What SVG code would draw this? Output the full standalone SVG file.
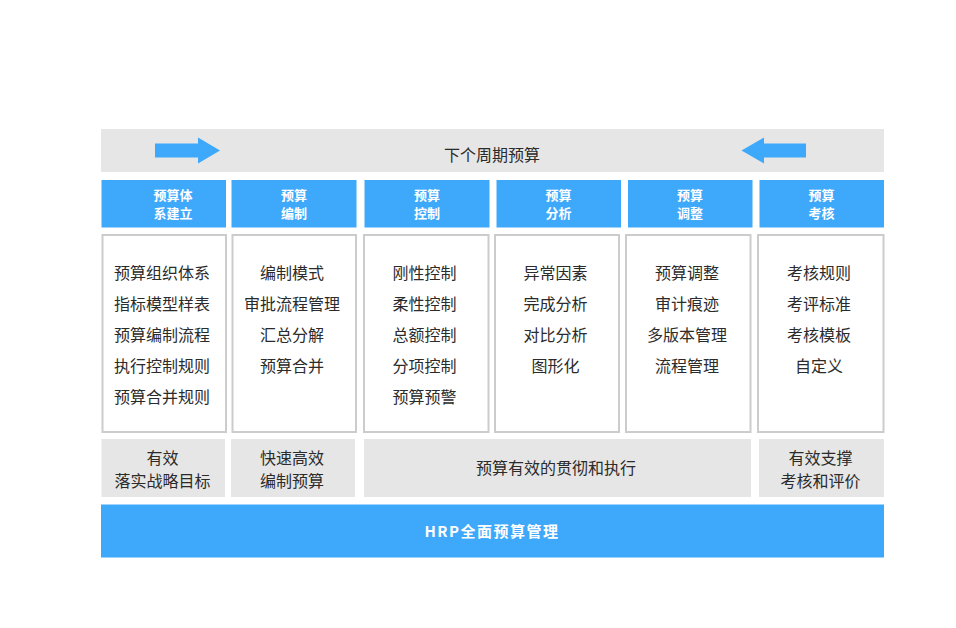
<svg xmlns="http://www.w3.org/2000/svg" width="956" height="628" viewBox="0 0 956 628">
<style>
.bg{fill:#ffffff}
.gray{fill:#e6e6e6}
.blue{fill:#3ea8fb}
.box{fill:#ffffff;stroke:#cccccc;stroke-width:2}
.t{font-family:"Noto Sans CJK SC","Noto Sans",sans-serif;font-size:16px;fill:#2b2b2b;text-anchor:middle;dominant-baseline:central}
.h{font-family:"Noto Sans CJK SC","Noto Sans",sans-serif;font-size:13px;fill:#ffffff;font-weight:bold;text-anchor:middle;dominant-baseline:central}
.hb{font-family:"Noto Sans CJK SC","Noto Sans",sans-serif;font-size:15px;fill:#ffffff;font-weight:bold;text-anchor:middle;dominant-baseline:central;letter-spacing:1.5px}
</style>
<rect class="bg" x="0" y="0" width="956" height="628"/>
<g id="cycle">
<rect class="gray" x="101" y="129" width="783" height="43"/>
<text class="t" x="492" y="154">下个周期预算</text>
</g>
<g id="connectors">
<polygon fill="#3ea8fb" points="155,143.5 198,143.5 198,137.5 220,150.5 198,163.5 198,157.5 155,157.5"/>
<polygon fill="#3ea8fb" points="806,143.5 764,143.5 764,137.5 741.5,150.5 764,163.5 764,157.5 806,157.5"/>
</g>
<g id="h1"><rect class="blue" x="101.5" y="180" width="124.5" height="47.5"/><text class="h" x="173" y="194">预算体</text><text class="h" x="173" y="212">系建立</text></g>
<g id="h2"><rect class="blue" x="231.5" y="180" width="125" height="47.5"/><text class="h" x="294" y="194">预算</text><text class="h" x="294" y="212">编制</text></g>
<g id="h3"><rect class="blue" x="364.5" y="180" width="125" height="47.5"/><text class="h" x="427" y="194">预算</text><text class="h" x="427" y="212">控制</text></g>
<g id="h4"><rect class="blue" x="496.5" y="180" width="124.5" height="47.5"/><text class="h" x="558.5" y="194">预算</text><text class="h" x="558.5" y="212">分析</text></g>
<g id="h5"><rect class="blue" x="628" y="180" width="124.5" height="47.5"/><text class="h" x="690" y="194">预算</text><text class="h" x="690" y="212">调整</text></g>
<g id="h6"><rect class="blue" x="759.5" y="180" width="124.5" height="47.5"/><text class="h" x="821.5" y="194">预算</text><text class="h" x="821.5" y="212">考核</text></g>
<g id="c1"><rect class="box" x="102.5" y="235" width="123.5" height="197"/>
<text class="t" x="162" y="272">预算组织体系</text><text class="t" x="162" y="303">指标模型样表</text><text class="t" x="162" y="334">预算编制流程</text><text class="t" x="162" y="365">执行控制规则</text><text class="t" x="162" y="396">预算合并规则</text></g>
<g id="c2"><rect class="box" x="232.5" y="235" width="123.5" height="197"/>
<text class="t" x="292" y="272">编制模式</text><text class="t" x="292" y="303">审批流程管理</text><text class="t" x="292" y="334">汇总分解</text><text class="t" x="292" y="365">预算合并</text></g>
<g id="c3"><rect class="box" x="364" y="235" width="124.5" height="197"/>
<text class="t" x="424.5" y="272">刚性控制</text><text class="t" x="424.5" y="303">柔性控制</text><text class="t" x="424.5" y="334">总额控制</text><text class="t" x="424.5" y="365">分项控制</text><text class="t" x="424.5" y="396">预算预警</text></g>
<g id="c4"><rect class="box" x="495" y="235" width="124" height="197"/>
<text class="t" x="555.5" y="272">异常因素</text><text class="t" x="555.5" y="303">完成分析</text><text class="t" x="555.5" y="334">对比分析</text><text class="t" x="555.5" y="365">图形化</text></g>
<g id="c5"><rect class="box" x="626" y="235" width="124.5" height="197"/>
<text class="t" x="687" y="272">预算调整</text><text class="t" x="687" y="303">审计痕迹</text><text class="t" x="687" y="334">多版本管理</text><text class="t" x="687" y="365">流程管理</text></g>
<g id="c6"><rect class="box" x="758" y="235" width="125.5" height="197"/>
<text class="t" x="819" y="272">考核规则</text><text class="t" x="819" y="303">考评标准</text><text class="t" x="819" y="334">考核模板</text><text class="t" x="819" y="365">自定义</text></g>
<g id="b1"><rect class="gray" x="101.5" y="439" width="123.5" height="58"/><text class="t" x="162.5" y="456.5">有效</text><text class="t" x="162.5" y="479.5">落实战略目标</text></g>
<g id="b2"><rect class="gray" x="231" y="439" width="124" height="58"/><text class="t" x="292" y="456.5">快速高效</text><text class="t" x="292" y="479.5">编制预算</text></g>
<g id="b3"><rect class="gray" x="364" y="439" width="387" height="58"/><text class="t" x="556" y="467">预算有效的贯彻和执行</text></g>
<g id="b4"><rect class="gray" x="759" y="439" width="125" height="58"/><text class="t" x="820.5" y="456.5">有效支撑</text><text class="t" x="820.5" y="479.5">考核和评价</text></g>
<g id="base"><rect class="blue" x="101" y="504.5" width="783" height="53"/><text class="hb" x="492" y="530">HRP全面预算管理</text></g>
</svg>
